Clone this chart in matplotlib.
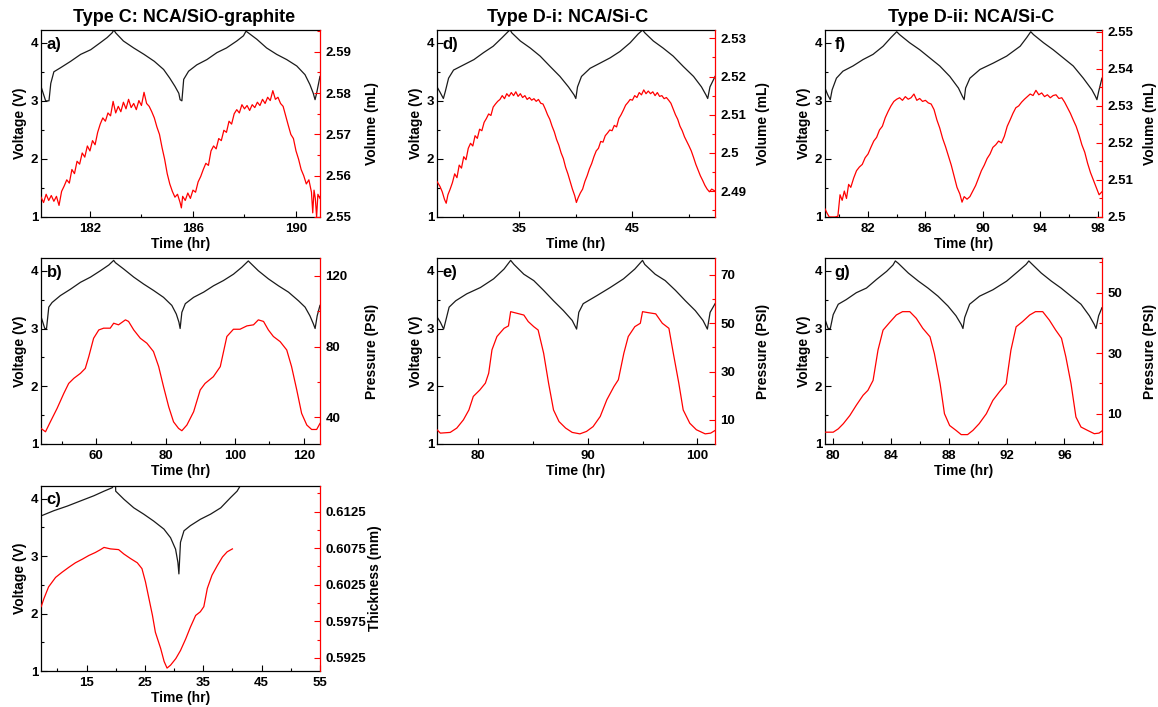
import matplotlib.pyplot as plt
from matplotlib.ticker import FuncFormatter

plt.rcParams['font.family'] = ['Liberation Sans', 'DejaVu Sans']
plt.rcParams['font.weight'] = 'bold'
plt.rcParams['axes.labelweight'] = 'bold'

# ---------------- panel a) Type C, volume ----------------
a_vt = [180.12, 180.28, 180.41, 180.48, 180.6, 180.86, 181.25, 181.64, 182.03, 182.4, 182.67,
        182.86, 182.93, 183.0, 183.3, 183.7, 184.1, 184.5, 184.86, 185.1, 185.3, 185.45, 185.5,
        185.57, 185.64, 185.83, 186.15, 186.54, 186.93, 187.3, 187.7, 187.96, 188.06, 188.15,
        188.48, 188.86, 189.25, 189.64, 190.03, 190.35, 190.54, 190.67, 190.74, 190.8, 190.93]
a_v = [3.22, 3.0, 3.0, 3.3, 3.5, 3.57, 3.68, 3.8, 3.88, 4.0, 4.09,
       4.17, 4.22, 4.17, 4.03, 3.91, 3.8, 3.68, 3.54, 3.39, 3.25, 3.13, 3.02,
       3.0, 3.37, 3.51, 3.62, 3.71, 3.83, 3.91, 4.03, 4.12, 4.2, 4.17,
       4.06, 3.91, 3.8, 3.71, 3.6, 3.45, 3.28, 3.13, 3.02, 3.13, 3.42]
a_rt = [180.1, 180.2, 180.3, 180.4, 180.5, 180.6, 180.7, 180.8, 180.9, 181.0, 181.1, 181.2,
        181.3, 181.4, 181.5, 181.6, 181.7, 181.8, 181.9, 182.0, 182.1, 182.2, 182.3, 182.4,
        182.5, 182.6, 182.7, 182.8, 182.9, 183.0, 183.1, 183.2, 183.3, 183.4, 183.5, 183.6,
        183.7, 183.8, 183.9, 184.0, 184.1, 184.2, 184.3, 184.4, 184.5, 184.6, 184.7, 184.8,
        184.9, 185.0, 185.1, 185.2, 185.3, 185.4, 185.5, 185.55, 185.6, 185.7, 185.8, 185.9,
        186.0, 186.1, 186.2, 186.3, 186.4, 186.5, 186.6, 186.7, 186.8, 186.9, 187.0, 187.1,
        187.2, 187.3, 187.4, 187.5, 187.6, 187.7, 187.8, 187.9, 188.0, 188.1, 188.2, 188.3,
        188.4, 188.5, 188.6, 188.7, 188.8, 188.9, 189.0, 189.1, 189.2, 189.3, 189.4, 189.5,
        189.6, 189.7, 189.8, 189.9, 190.0, 190.1, 190.2, 190.3, 190.4, 190.5, 190.6, 190.65,
        190.7, 190.75, 190.8, 190.85, 190.93]
a_r = [2.5548, 2.5535, 2.5555, 2.5540, 2.5552, 2.5538, 2.5550, 2.5528, 2.5562, 2.5575, 2.5590, 2.5582,
       2.5615, 2.5605, 2.5635, 2.5628, 2.5655, 2.5645, 2.5672, 2.5660, 2.5685, 2.5675, 2.5705, 2.5725,
       2.5740, 2.5732, 2.5752, 2.5745, 2.5780, 2.5752, 2.5768, 2.5755, 2.5778, 2.5762, 2.5785, 2.5765,
       2.5775, 2.5760, 2.5782, 2.5770, 2.5802, 2.5775, 2.5768, 2.5755, 2.5740, 2.5718, 2.5700, 2.5668,
       2.5640, 2.5605, 2.5580, 2.5562, 2.5548, 2.5555, 2.5535, 2.5522, 2.5550, 2.5540, 2.5558, 2.5545,
       2.5565, 2.5560, 2.5585, 2.5598, 2.5615, 2.5630, 2.5625, 2.5660, 2.5672, 2.5665, 2.5690, 2.5685,
       2.5710, 2.5705, 2.5732, 2.5725, 2.5750, 2.5760, 2.5752, 2.5772, 2.5762, 2.5770, 2.5758, 2.5772,
       2.5765, 2.5778, 2.5770, 2.5785, 2.5775, 2.5790, 2.5782, 2.5806, 2.5785, 2.5790, 2.5775, 2.5768,
       2.5745, 2.5722, 2.5700, 2.5690, 2.5660, 2.5640, 2.5615, 2.5600, 2.5580, 2.5590, 2.5560, 2.5510,
       2.5565, 2.5545, 2.5500, 2.5555, 2.5545]

# ---------------- panel b) Type C, pressure ----------------
b_vt = [44.04, 45.1, 45.6, 46.25, 47.2, 49.6, 52.5, 55.4, 58.3, 61.15, 63.6, 65.0, 65.5, 67.9,
        70.8, 73.65, 76.5, 79.4, 81.8, 83.1, 83.85, 84.2, 84.7, 85.7, 88.1, 91.0, 93.85, 96.7,
        99.6, 102.0, 103.9, 104.4, 106.8, 109.7, 112.6, 115.5, 118.4, 120.3, 121.7, 122.7,
        123.2, 123.8, 124.6]
b_v = [3.2, 3.0, 3.0, 3.37, 3.45, 3.57, 3.68, 3.8, 3.89, 4.0, 4.1, 4.18, 4.14, 4.03,
       3.89, 3.77, 3.66, 3.54, 3.4, 3.25, 3.11, 3.0, 3.28, 3.43, 3.54, 3.63, 3.74, 3.83,
       3.94, 4.06, 4.17, 4.14, 4.0, 3.86, 3.74, 3.63, 3.48, 3.37, 3.22, 3.08,
       3.0, 3.22, 3.4]
b_rt = [44.0, 45.3, 46.7, 48.65, 50.6, 52.0, 53.5, 55.4, 56.8, 57.8, 59.2, 60.7, 62.1, 64.0,
        65.0, 66.4, 68.4, 69.3, 70.8, 72.7, 74.6, 76.5, 78.0, 79.4, 80.9, 82.3, 83.75, 84.7,
        86.15, 88.1, 90.0, 91.4, 93.8, 95.8, 97.7, 99.6, 101.5, 103.5, 105.4, 106.8, 108.3,
        109.7, 111.15, 113.1, 115.0, 116.4, 117.9, 119.3, 120.8, 122.2, 123.65, 124.6]
b_r = [33.8, 31.9, 37.5, 45.1, 53.6, 59.2, 62.1, 64.9, 67.7, 74.3, 84.7, 89.4, 90.4, 90.4,
       93.2, 92.3, 95.1, 94.2, 89.4, 84.7, 81.9, 77.2, 68.7, 57.4, 46.0, 37.5, 33.8, 32.5,
       35.7, 43.2, 55.5, 59.2, 63.0, 68.7, 85.7, 89.8, 89.8, 91.7, 92.3, 95.1, 94.2,
       89.4, 85.7, 82.8, 78.1, 68.7, 55.5, 42.3, 35.7, 33.2, 33.2, 36.6]

# ---------------- panel c) Type C, thickness ----------------
c_vt = [7.23, 9.4, 11.7, 13.97, 16.26, 18.0, 19.4, 19.8, 19.97, 20.0, 21.4, 23.1, 24.8, 26.5,
        28.26, 29.4, 30.26, 30.66, 30.83, 31.1, 31.7, 32.8, 34.5, 36.26, 38.0, 39.7, 40.8, 41.5]
c_v = [3.7, 3.79, 3.87, 3.96, 4.05, 4.13, 4.19, 4.25, 4.25, 4.13, 3.99, 3.84, 3.73, 3.61,
       3.47, 3.32, 3.12, 2.89, 2.69, 3.24, 3.44, 3.53, 3.64, 3.73, 3.84, 4.02, 4.13, 4.25]
c_rt = [7.23, 7.7, 8.5, 9.7, 10.8, 12.0, 13.1, 14.3, 15.4, 16.5, 17.4, 18.0, 19.1, 20.5, 21.4,
        22.5, 23.7, 24.5, 25.1, 25.7, 26.3, 26.8, 27.7, 28.3, 28.8, 29.4, 30.3, 31.1, 32.0,
        32.8, 33.7, 34.5, 35.1, 35.7, 36.5, 37.4, 38.3, 39.1, 40.0]
c_r = [0.5995, 0.6006, 0.6022, 0.6035, 0.6042, 0.6049, 0.6055, 0.6060, 0.6065, 0.6069, 0.6073,
       0.6076, 0.6074, 0.6073, 0.6067, 0.6061, 0.6055, 0.6047, 0.6029, 0.6006, 0.5983, 0.5960,
       0.5938, 0.5920, 0.5911, 0.5915, 0.5924, 0.5935, 0.5951, 0.5967, 0.5983, 0.5988, 0.5995,
       0.6020, 0.6038, 0.6051, 0.6063, 0.6070, 0.6074]

# ---------------- panel d) Type D-i, volume ----------------
d_vt = [27.74, 28.0, 28.3, 28.47, 28.76, 29.2, 30.1, 31.0, 31.85, 32.7, 33.5, 34.06, 34.2, 34.35,
        35.1, 35.97, 36.85, 37.74, 38.6, 39.35, 39.85, 40.0, 40.15, 40.5, 41.26, 42.15, 43.03,
        43.9, 44.8, 45.5, 45.9, 46.1, 46.85, 47.7, 48.6, 49.5, 50.4, 51.1, 51.5, 51.65, 51.85, 52.3]
d_v = [3.24, 3.15, 3.04, 3.16, 3.39, 3.53, 3.62, 3.71, 3.83, 3.94, 4.09, 4.2, 4.22, 4.17,
       4.03, 3.91, 3.77, 3.59, 3.42, 3.24, 3.1, 3.04, 3.24, 3.42, 3.56, 3.65, 3.74,
       3.85, 4.0, 4.15, 4.22, 4.17, 4.03, 3.91, 3.77, 3.59, 3.42, 3.24, 3.1, 3.04, 3.24, 3.42]
d_rt = [27.74, 28.0, 28.2, 28.4, 28.55, 28.7, 28.9, 29.1, 29.3, 29.5, 29.7, 29.9, 30.1, 30.3,
        30.5, 30.7, 30.9, 31.1, 31.3, 31.5, 31.7, 31.9, 32.1, 32.3, 32.5, 32.7, 32.9, 33.1,
        33.3, 33.5, 33.7, 33.9, 34.1, 34.3, 34.5, 34.7, 34.9, 35.1, 35.3, 35.5, 35.7, 35.9,
        36.1, 36.3, 36.5, 36.7, 36.9, 37.1, 37.3, 37.5, 37.7, 37.9, 38.1, 38.3, 38.5, 38.7,
        38.9, 39.1, 39.3, 39.5, 39.7, 39.9, 40.05, 40.2, 40.4, 40.6, 40.8, 41.0, 41.2, 41.4,
        41.6, 41.8, 42.0, 42.2, 42.4, 42.6, 42.8, 43.0, 43.2, 43.4, 43.6, 43.8, 44.0, 44.2,
        44.4, 44.6, 44.8, 45.0, 45.2, 45.4, 45.6, 45.8, 46.0, 46.2, 46.4, 46.6, 46.8, 47.0,
        47.2, 47.4, 47.6, 47.8, 48.0, 48.2, 48.4, 48.6, 48.8, 49.0, 49.2, 49.4, 49.6, 49.8,
        50.0, 50.2, 50.4, 50.6, 50.8, 51.0, 51.2, 51.4, 51.6, 51.8, 52.0, 52.3]
d_r = [2.4925, 2.4912, 2.4898, 2.4878, 2.4868, 2.4890, 2.4905, 2.4922, 2.4945, 2.4935, 2.4968, 2.4960,
       2.4990, 2.4982, 2.5012, 2.5025, 2.5018, 2.5045, 2.5038, 2.5062, 2.5058, 2.5080, 2.5090, 2.5102,
       2.5098, 2.5120, 2.5128, 2.5135, 2.5140, 2.5150, 2.5142, 2.5155, 2.5148, 2.5158, 2.5150, 2.5160,
       2.5148, 2.5155, 2.5145, 2.5150, 2.5140, 2.5145, 2.5138, 2.5142, 2.5135, 2.5140, 2.5130, 2.5128,
       2.5115, 2.5100, 2.5088, 2.5070, 2.5055, 2.5035, 2.5020, 2.5000, 2.4985, 2.4962, 2.4945, 2.4925,
       2.4905, 2.4888, 2.4870, 2.4882, 2.4895, 2.4905, 2.4925, 2.4940, 2.4958, 2.4972, 2.4990, 2.5005,
       2.5012, 2.5030, 2.5028, 2.5045, 2.5052, 2.5060, 2.5058, 2.5072, 2.5068, 2.5090, 2.5100, 2.5112,
       2.5125, 2.5132, 2.5140, 2.5138, 2.5150, 2.5145, 2.5158, 2.5152, 2.5165, 2.5155, 2.5162, 2.5155,
       2.5160, 2.5150, 2.5158, 2.5148, 2.5150, 2.5142, 2.5145, 2.5138, 2.5130, 2.5115, 2.5100, 2.5088,
       2.5070, 2.5058, 2.5042, 2.5030, 2.5018, 2.5005, 2.4988, 2.4970, 2.4955, 2.4940, 2.4928, 2.4915,
       2.4905, 2.4898, 2.4905, 2.4900]

# ---------------- panel e) Type D-i, pressure ----------------
e_vt = [76.3, 76.6, 76.9, 77.06, 77.4, 78.0, 79.0, 80.25, 81.45, 82.4, 83.0, 83.3, 84.2, 85.1,
        86.0, 86.9, 87.8, 88.6, 89.0, 89.2, 89.6, 90.85, 92.06, 93.27, 94.3, 95.0, 95.2, 96.15,
        97.06, 98.0, 98.9, 99.8, 100.5, 100.9, 101.15, 101.6]
e_v = [3.2, 3.11, 2.99, 3.11, 3.37, 3.48, 3.6, 3.71, 3.86, 4.03, 4.18, 4.11, 3.94, 3.83,
       3.66, 3.48, 3.31, 3.14, 2.99, 3.28, 3.43, 3.57, 3.71, 3.86, 4.03, 4.18, 4.11, 3.94,
       3.83, 3.66, 3.48, 3.31, 3.14, 2.99, 3.28, 3.43]
e_rt = [76.3, 76.6, 77.5, 78.1, 78.7, 79.2, 79.6, 80.2, 80.7, 81.0, 81.3, 81.75, 82.4, 82.8,
        83.0, 83.6, 84.2, 84.6, 85.1, 85.5, 86.0, 86.45, 86.9, 87.4, 88.0, 88.6, 89.3, 89.9,
        90.5, 91.15, 91.75, 92.4, 92.8, 93.3, 93.7, 94.3, 94.8, 95.0, 95.5, 96.2, 96.8, 97.4,
        97.8, 98.3, 98.7, 99.3, 99.9, 100.7, 101.2, 101.6]
e_r = [5.9, 4.5, 4.8, 6.6, 10.0, 14.1, 19.7, 22.4, 25.2, 29.3, 39.0, 44.5, 47.9, 48.9,
       54.8, 54.1, 53.4, 50.7, 48.6, 47.2, 37.6, 25.2, 14.1, 9.3, 6.6, 4.8, 4.2, 5.2,
       7.2, 11.4, 18.3, 23.8, 26.6, 37.6, 44.5, 48.6, 50.0, 54.8, 54.4, 53.9, 50.0, 47.9,
       37.6, 25.2, 14.1, 8.6, 5.9, 4.2, 4.5, 5.6]

# ---------------- panel f) Type D-ii, volume ----------------
f_vt = [79.0, 79.2, 79.37, 79.5, 79.8, 80.25, 80.95, 81.65, 82.35, 83.05, 83.6, 84.0, 84.2, 84.9,
        85.6, 86.3, 87.0, 87.7, 88.3, 88.57, 88.7, 88.8, 89.1, 89.8, 90.73, 91.66, 92.6, 93.06,
        93.34, 93.53, 94.23, 94.9, 95.6, 96.3, 97.0, 97.6, 97.84, 97.95, 98.07, 98.3]
f_v = [3.22, 3.1, 3.02, 3.19, 3.39, 3.51, 3.6, 3.71, 3.8, 3.94, 4.09, 4.19, 4.14, 4.0,
       3.88, 3.74, 3.6, 3.42, 3.22, 3.08, 3.02, 3.22, 3.39, 3.54, 3.65, 3.77, 3.94, 4.09,
       4.19, 4.14, 4.0, 3.88, 3.74, 3.6, 3.39, 3.19, 3.08, 3.02, 3.16, 3.39]
f_rt = [79.0, 79.15, 79.3, 79.5, 79.7, 79.9, 80.05, 80.2, 80.35, 80.5, 80.65, 80.8, 81.0, 81.2,
        81.4, 81.6, 81.8, 82.0, 82.2, 82.4, 82.6, 82.8, 83.0, 83.2, 83.4, 83.6, 83.8, 84.0,
        84.2, 84.4, 84.6, 84.8, 85.0, 85.2, 85.4, 85.6, 85.8, 86.0, 86.2, 86.4, 86.6, 86.8,
        87.0, 87.2, 87.4, 87.6, 87.8, 88.0, 88.2, 88.4, 88.55, 88.7, 88.9, 89.1, 89.3, 89.5,
        89.7, 89.9, 90.1, 90.3, 90.5, 90.7, 90.9, 91.1, 91.3, 91.5, 91.7, 91.9, 92.1, 92.3,
        92.5, 92.7, 92.9, 93.1, 93.3, 93.5, 93.7, 93.9, 94.1, 94.3, 94.5, 94.7, 94.9, 95.1,
        95.3, 95.5, 95.7, 95.9, 96.1, 96.3, 96.5, 96.7, 96.9, 97.1, 97.3, 97.5, 97.7, 97.9,
        98.1, 98.3]
f_r = [2.5022, 2.5010, 2.5000, 2.5000, 2.5000, 2.5002, 2.5060, 2.5045, 2.5070, 2.5050, 2.5088, 2.5080,
       2.5105, 2.5125, 2.5135, 2.5142, 2.5160, 2.5170, 2.5188, 2.5205, 2.5215, 2.5235, 2.5245, 2.5268,
       2.5285, 2.5300, 2.5312, 2.5318, 2.5322, 2.5315, 2.5325, 2.5318, 2.5322, 2.5332, 2.5315, 2.5320,
       2.5312, 2.5315, 2.5308, 2.5305, 2.5290, 2.5262, 2.5240, 2.5212, 2.5190, 2.5165, 2.5140, 2.5110,
       2.5080, 2.5062, 2.5040, 2.5055, 2.5048, 2.5055, 2.5070, 2.5085, 2.5105, 2.5125, 2.5140, 2.5158,
       2.5170, 2.5188, 2.5195, 2.5205, 2.5200, 2.5218, 2.5245, 2.5262, 2.5280, 2.5295, 2.5300, 2.5310,
       2.5318, 2.5325, 2.5332, 2.5328, 2.5342, 2.5330, 2.5335, 2.5325, 2.5330, 2.5322, 2.5328, 2.5330,
       2.5320, 2.5322, 2.5310, 2.5295, 2.5280, 2.5262, 2.5245, 2.5222, 2.5195, 2.5175, 2.5145, 2.5120,
       2.5100, 2.5080, 2.5060, 2.5068]

# ---------------- panel g) Type D-ii, pressure ----------------
g_vt = [79.43, 79.65, 79.8, 80.0, 80.35, 80.9, 81.6, 82.3, 83.0, 83.7, 84.14, 84.3, 84.5, 85.2,
        85.9, 86.56, 87.25, 87.94, 88.5, 88.86, 88.98, 89.1, 89.44, 90.13, 91.05, 92.0, 92.8,
        93.35, 93.54, 93.7, 94.4, 95.1, 95.77, 96.46, 97.15, 97.73, 98.07, 98.19, 98.37, 98.6]
g_v = [3.16, 3.0, 3.0, 3.24, 3.42, 3.5, 3.62, 3.7, 3.85, 3.99, 4.1, 4.17, 4.13, 3.96,
       3.82, 3.7, 3.56, 3.39, 3.22, 3.07, 3.0, 3.19, 3.42, 3.56, 3.67, 3.82, 3.99,
       4.11, 4.17, 4.13, 3.96, 3.82, 3.7, 3.56, 3.42, 3.22, 3.07, 3.0, 3.22, 3.36]
g_rt = [79.43, 80.0, 80.35, 80.7, 81.15, 81.6, 82.07, 82.4, 82.76, 83.1, 83.45, 83.9, 84.37,
        84.8, 85.3, 85.75, 86.2, 86.7, 87.0, 87.4, 87.7, 88.06, 88.5, 88.86, 89.3, 89.67,
        90.1, 90.6, 91.05, 91.5, 91.97, 92.3, 92.66, 93.1, 93.6, 94.0, 94.5, 94.96, 95.4,
        95.8, 96.1, 96.46, 96.8, 97.15, 97.6, 98.07, 98.4, 98.6]
g_r = [3.9, 3.9, 5.0, 6.7, 9.4, 12.8, 16.1, 17.7, 21.0, 31.0, 37.6, 40.1, 42.6,
       43.7, 43.7, 41.5, 38.2, 35.4, 29.9, 19.9, 10.0, 6.1, 4.5, 3.1, 3.1, 4.5,
       6.7, 10.0, 14.4, 17.2, 19.9, 31.0, 38.7, 40.4, 42.6, 43.7, 43.7, 40.9, 37.6,
       34.9, 28.8, 19.9, 8.9, 5.6, 4.5, 3.4, 3.6, 4.3]

titles = ['Type C: NCA/SiO-graphite', 'Type D-i: NCA/Si-C', 'Type D-ii: NCA/Si-C']
title_x = [0.159, 0.49, 0.839]

volt_major = [1, 2, 3, 4]
volt_minor = [1.5, 2.5, 3.5]

col_left = [0.0354, 0.3774, 0.7124]
col_w = [0.2409, 0.2401, 0.2392]
row_bottom = [0.6931, 0.372, 0.0509]
row_h = [0.2645, 0.263, 0.2617]

BLACK = '#1a1a1a'
RED = '#ff0000'


def fmt_g(x, pos):
  return '%g' % round(x, 6)


def draw_panel(fig, col, row, label, vt, v, rt, r, xlim, xmaj, xmin,
               rlim, rmaj, rmin, rlabel, rlabel_x, label_x=0.02):
  ax = fig.add_axes([col_left[col], row_bottom[row], col_w[col], row_h[row]])
  ax.plot(vt, v, color=BLACK, lw=0.9)
  ax.set_xlim(*xlim)
  ax.set_ylim(1, 4.22)
  ax.set_yticks(volt_major)
  ax.set_yticks(volt_minor, minor=True)
  ax.set_xticks(xmaj)
  ax.set_xticks(xmin, minor=True)
  ax.set_ylabel('Voltage (V)', fontsize=10, labelpad=3)
  ax.set_xlabel('Time (hr)', fontsize=10, labelpad=2)
  ax.tick_params(which='both', direction='in', labelsize=9.5, pad=2)
  ax.tick_params(which='major', length=4.5, width=0.8)
  ax.tick_params(which='minor', length=2.5, width=0.8)
  ax.tick_params(axis='x', pad=4)
  ax.spines['right'].set_visible(False)
  for s in ('left', 'top', 'bottom'):
    ax.spines[s].set_linewidth(0.9)
  ax.text(label_x, 0.925, label, transform=ax.transAxes, fontsize=12,
          fontweight='bold', ha='left', va='center')

  # right-hand axis for the measured quantity
  tw = ax.twinx()
  tw.plot(rt, r, color=RED, lw=0.9)
  tw.set_ylim(*rlim)
  tw.set_yticks(rmaj)
  tw.set_yticks(rmin, minor=True)
  tw.yaxis.set_major_formatter(FuncFormatter(fmt_g))
  tw.set_ylabel(rlabel, fontsize=10)
  tw.yaxis.set_label_coords(rlabel_x, 0.5)
  tw.yaxis.label.set_verticalalignment('center')
  tw.tick_params(which='both', direction='in', colors=RED, labelcolor='black',
                 labelsize=9.5, pad=4)
  tw.tick_params(which='major', length=4.5, width=0.8)
  tw.tick_params(which='minor', length=2.5, width=0.8)
  tw.spines['right'].set_color(RED)
  tw.spines['right'].set_linewidth(0.9)
  for s in ('left', 'top', 'bottom'):
    tw.spines[s].set_visible(False)
  return ax


fig = plt.figure(figsize=(11.58, 7.07), dpi=100)

draw_panel(fig, 0, 0, 'a)', a_vt, a_v, a_rt, a_r, (180.1, 190.93), [182, 186, 190], [184, 188],
           (2.55, 2.5953), [2.55, 2.56, 2.57, 2.58, 2.59], [2.555, 2.565, 2.575, 2.585, 2.595],
           'Volume (mL)', 1.186)
draw_panel(fig, 0, 1, 'b)', b_vt, b_v, b_rt, b_r, (44.0, 124.6), [60, 80, 100, 120], [50, 70, 90, 110],
           (25, 130), [40, 80, 120], [60, 100], 'Pressure (PSI)', 1.186)
draw_panel(fig, 0, 2, 'c)', c_vt, c_v, c_rt, c_r, (7.2, 55), [15, 25, 35, 45, 55], [10, 20, 30, 40, 50],
           (0.5907, 0.616), [0.5925, 0.5975, 0.6025, 0.6075, 0.6125],
           [0.595, 0.6, 0.605, 0.61, 0.615], 'Thickness (mm)', 1.197)
draw_panel(fig, 1, 0, 'd)', d_vt, d_v, d_rt, d_r, (27.74, 52.3), [35, 45], [30, 40, 50],
           (2.4832, 2.5322), [2.49, 2.5, 2.51, 2.52, 2.53], [2.485, 2.495, 2.505, 2.515, 2.525],
           'Volume (mL)', 1.173)
draw_panel(fig, 1, 1, 'e)', e_vt, e_v, e_rt, e_r, (76.3, 101.6), [80, 90, 100], [85, 95],
           (0, 77), [10, 30, 50, 70], [20, 40, 60], 'Pressure (PSI)', 1.173)
draw_panel(fig, 2, 0, 'f)', f_vt, f_v, f_rt, f_r, (79.0, 98.3), [82, 86, 90, 94, 98], [80, 84, 88, 92, 96],
           (2.5, 2.5505), [2.5, 2.51, 2.52, 2.53, 2.54, 2.55], [2.505, 2.515, 2.525, 2.535, 2.545],
           'Volume (mL)', 1.172, label_x=0.035)
draw_panel(fig, 2, 1, 'g)', g_vt, g_v, g_rt, g_r, (79.43, 98.6), [80, 84, 88, 92, 96], [82, 86, 90, 94, 98],
           (0, 61.4), [10, 30, 50], [20, 40, 60], 'Pressure (PSI)', 1.172, label_x=0.035)

for x, t in zip(title_x, titles):
  fig.text(x, 0.975, t, ha='center', va='center', fontsize=13, fontweight='bold')

fig.savefig('out.png', dpi=100)
